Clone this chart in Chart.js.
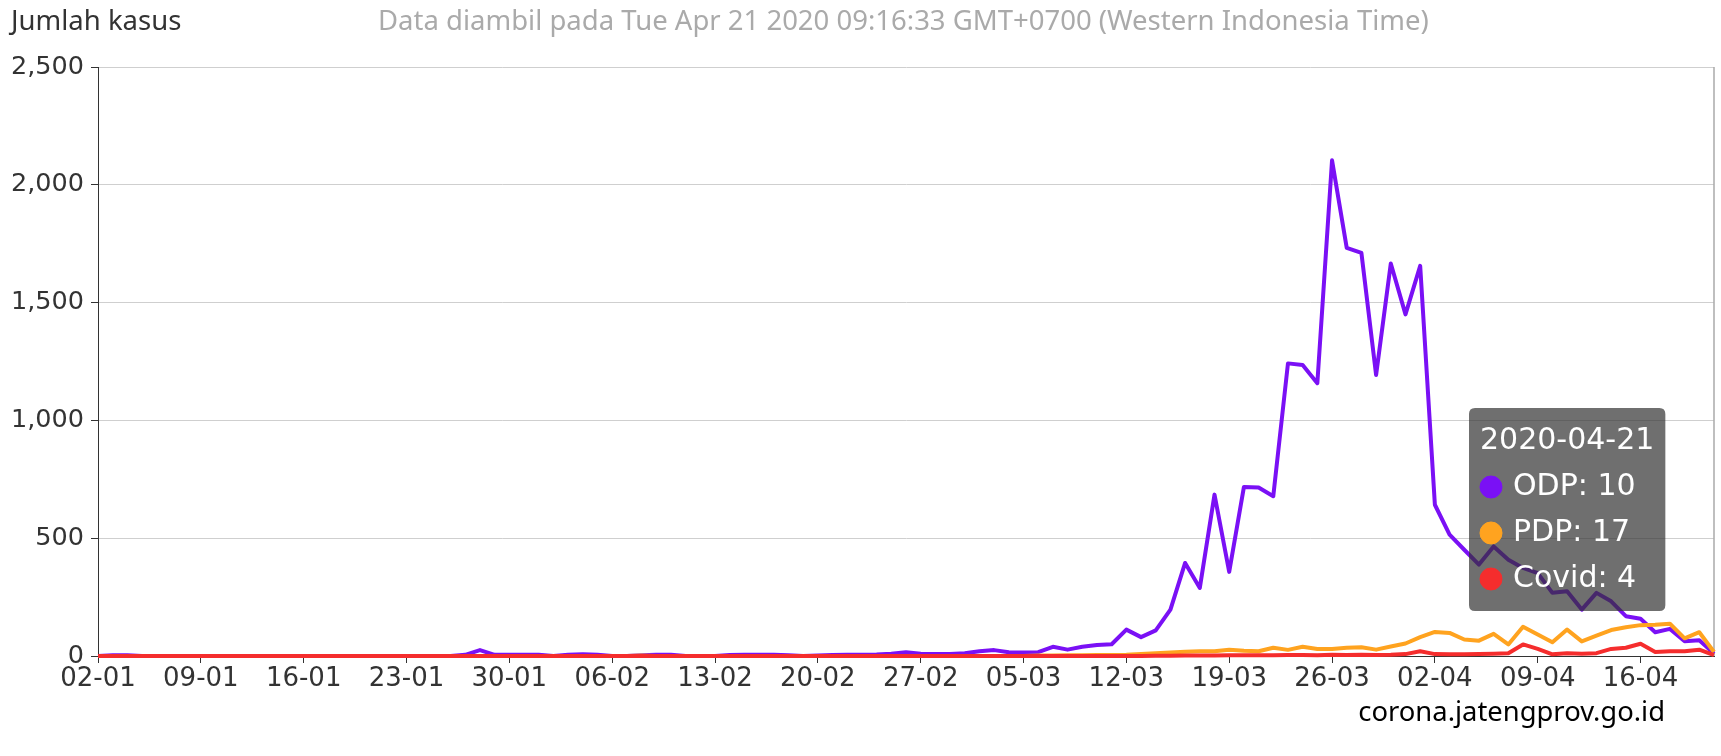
<!DOCTYPE html>
<html>
<head>
<meta charset="utf-8">
<script src="https://cdn.jsdelivr.net/npm/chart.js@4.4.1/dist/chart.umd.min.js"></script>
<style>
  html, body { margin: 0; padding: 0; background: #fff; }
  #wrap { position: relative; width: 1721px; height: 756px; overflow: hidden; }
  #chart { position: absolute; left: 0; top: 0; }
  .txt { position: absolute; white-space: nowrap; font-family: "Noto Sans", sans-serif; line-height: 1; }
</style>
</head>
<body>
<div id="wrap">
  <canvas id="chart" width="1721" height="756"></canvas>
  <div class="txt" style="left:11px; top:6px; font-size:27.5px; color:#333;">Jumlah kasus</div>
  <div class="txt" style="left:378px; top:6px; font-size:27.5px; color:#aaa;">Data diambil pada Tue Apr 21 2020 09:16:33 GMT+0700 (Western Indonesia Time)</div>
  <div class="txt" style="right:56px; top:697px; font-size:27.4px; color:#000;">corona.jatengprov.go.id</div>
</div>
<script>
Chart.defaults.font.family = '"DejaVu Sans", sans-serif';
Chart.defaults.font.size = 26;
Chart.defaults.color = '#333';

// daily dates 2020-01-02 .. 2020-04-21
const isoDates = [];
const labels = [];
for (let d = new Date(Date.UTC(2020, 0, 2)); d <= new Date(Date.UTC(2020, 3, 21)); d.setUTCDate(d.getUTCDate() + 1)) {
  const iso = d.toISOString().slice(0, 10);
  isoDates.push(iso);
  labels.push(iso.slice(8, 10) + '-' + iso.slice(5, 7));
}

const odp = [
  0, 3, 3, 0, 0, 0, 0, 0, 0, 0,
  0, 0, 0, 0, 0, 0, 0, 0, 0, 0,
  0, 0, 0, 0, 0, 5, 25, 5, 5, 5,
  5, 0, 5, 7, 5, 0, 0, 3, 5, 5,
  0, 0, 0, 4, 5, 5, 5, 3, 0, 2,
  4, 5, 5, 6, 10, 16, 10, 8, 8, 12,
  20, 25, 16, 15, 16, 39, 27, 39, 47, 50,
  112, 80, 109, 197, 395, 289, 685, 357, 717, 715,
  678, 1242, 1235, 1158, 2104, 1732, 1711, 1193, 1666, 1450,
  1656, 642, 515, 451, 388, 465, 409, 374, 352, 268,
  275, 197, 268, 232, 169, 158, 101, 115, 63, 67,
  10
];
const pdp = [
  0, 0, 0, 0, 0, 0, 0, 0, 0, 0,
  0, 0, 0, 0, 0, 0, 0, 0, 0, 0,
  0, 0, 0, 0, 0, 0, 0, 0, 0, 0,
  0, 0, 0, 0, 0, 0, 0, 2, 0, 0,
  0, 0, 0, 0, 0, 0, 0, 0, 0, 0,
  0, 0, 0, 0, 0, 0, 0, 0, 0, 0,
  0, 0, 0, 0, 2, 2, 3, 3, 4, 4,
  5, 8, 12, 15, 18, 20, 20, 27, 22, 20,
  35, 26, 39, 30, 30, 35, 37, 27, 40, 53,
  80, 102, 98, 70, 65, 94, 49, 124, 91, 58,
  112, 62, 86, 110, 122, 131, 133, 137, 75, 101,
  17
];
const covid = [
  0, 0, 0, 0, 0, 0, 0, 0, 0, 0,
  0, 0, 0, 0, 0, 0, 0, 0, 0, 0,
  0, 0, 0, 0, 0, 0, 0, 0, 0, 0,
  0, 0, 0, 0, 0, 0, 0, 0, 0, 0,
  0, 0, 0, 0, 0, 0, 0, 0, 0, 0,
  0, 0, 0, 0, 0, 0, 0, 0, 0, 0,
  0, 0, 0, 0, 0, 0, 0, 0, 0, 0,
  0, 0, 1, 1, 2, 2, 2, 3, 3, 3,
  3, 4, 4, 3, 5, 4, 5, 4, 5, 8,
  20, 8, 7, 7, 8, 10, 12, 49, 30, 7,
  12, 10, 12, 30, 35, 52, 17, 20, 20, 27,
  4
];

const yTicks = [0, 500, 1000, 1500, 2000, 2500];
const colors = { odp: '#7a10f5', pdp: '#ffa31f', covid: '#f52d2d' };
const hoverIndex = labels.length - 1;

// vertical line at hovered day (echarts-style axis pointer)
const axisPointer = {
  id: 'axisPointer',
  beforeDatasetsDraw(chart) {
    const x = chart.scales.x.getPixelForValue(hoverIndex);
    const a = chart.chartArea;
    const ctx = chart.ctx;
    ctx.save();
    ctx.strokeStyle = '#aaa';
    ctx.lineWidth = 1.5;
    ctx.beginPath();
    ctx.moveTo(x, a.top);
    ctx.lineTo(x, a.bottom);
    ctx.stroke();
    ctx.restore();
  }
};

Chart.Tooltip.positioners.boxSpot = function () {
  const a = this.chart.chartArea;
  return { x: a.right - 239, y: a.top + 341 };
};

const chart = new Chart(document.getElementById('chart'), {
  type: 'line',
  data: {
    labels,
    datasets: [
      // later series are painted on top, as in the original
      { label: 'ODP', data: odp, order: 3, borderColor: colors.odp, backgroundColor: colors.odp },
      { label: 'PDP', data: pdp, order: 2, borderColor: colors.pdp, backgroundColor: colors.pdp },
      { label: 'Covid', data: covid, order: 1, borderColor: colors.covid, backgroundColor: colors.covid }
    ]
  },
  options: {
    responsive: false,
    animation: false,
    events: [],
    layout: { padding: { left: 0, right: 7, top: 67, bottom: 0 } },
    elements: {
      line: { borderWidth: 4, tension: 0, borderJoinStyle: 'round' },
      point: { radius: 0, hoverRadius: 0 }
    },
    datasets: { line: { clip: false } },
    plugins: {
      legend: { display: false },
      tooltip: {
        position: 'boxSpot',
        xAlign: 'left',
        yAlign: 'top',
        caretSize: 0,
        caretPadding: 0,
        cornerRadius: 6,
        backgroundColor: 'rgba(50,50,50,0.7)',
        titleColor: '#fff',
        bodyColor: '#fff',
        titleFont: { size: 30, weight: 'normal' },
        bodyFont: { size: 30 },
        titleMarginBottom: 10,
        bodySpacing: 10,
        padding: { left: 11, right: 11, top: 15, bottom: 14 },
        usePointStyle: true,
        boxWidth: 22,
        boxHeight: 22,
        boxPadding: 9,
        multiKeyBackground: 'rgba(0,0,0,0)',
        itemSort: (a, b) => a.datasetIndex - b.datasetIndex,
        animation: false,
        callbacks: {
          title: items => isoDates[items[0].dataIndex],
          label: item => item.dataset.label + ': ' + item.raw,
          labelColor: item => ({ borderColor: item.dataset.borderColor, backgroundColor: item.dataset.borderColor }),
          labelPointStyle: () => ({ pointStyle: 'circle', rotation: 0 })
        }
      }
    },
    scales: {
      x: {
        offset: false,
        border: { display: true, color: '#333', width: 1 },
        grid: {
          drawOnChartArea: false,
          tickLength: 7,
          tickColor: ctx => (ctx.index % 7 === 0 ? '#333' : 'rgba(0,0,0,0)')
        },
        ticks: {
          autoSkip: false,
          maxRotation: 0,
          padding: 1,
          color: '#333',
          font: { size: 26 },
          callback: (v, i) => (i % 7 === 0 ? labels[i] : '')
        },
        afterFit: s => { s.height = 100; }
      },
      y: {
        min: yTicks[0],
        max: yTicks[yTicks.length - 1],
        border: { display: true, color: '#333', width: 1 },
        grid: { color: '#cfcfcf', tickColor: '#333', tickLength: 7 },
        ticks: {
          stepSize: yTicks[1] - yTicks[0],
          padding: 7,
          color: '#333',
          font: { size: 25.5 },
          callback: v => v.toLocaleString('en-US')
        },
        afterFit: s => { s.width = 98; }
      }
    }
  },
  plugins: [axisPointer]
});

chart.tooltip.setActiveElements(
  chart.data.datasets.map((ds, k) => ({ datasetIndex: k, index: hoverIndex })),
  { x: 0, y: 0 }
);
chart.update();
</script>
</body>
</html>
